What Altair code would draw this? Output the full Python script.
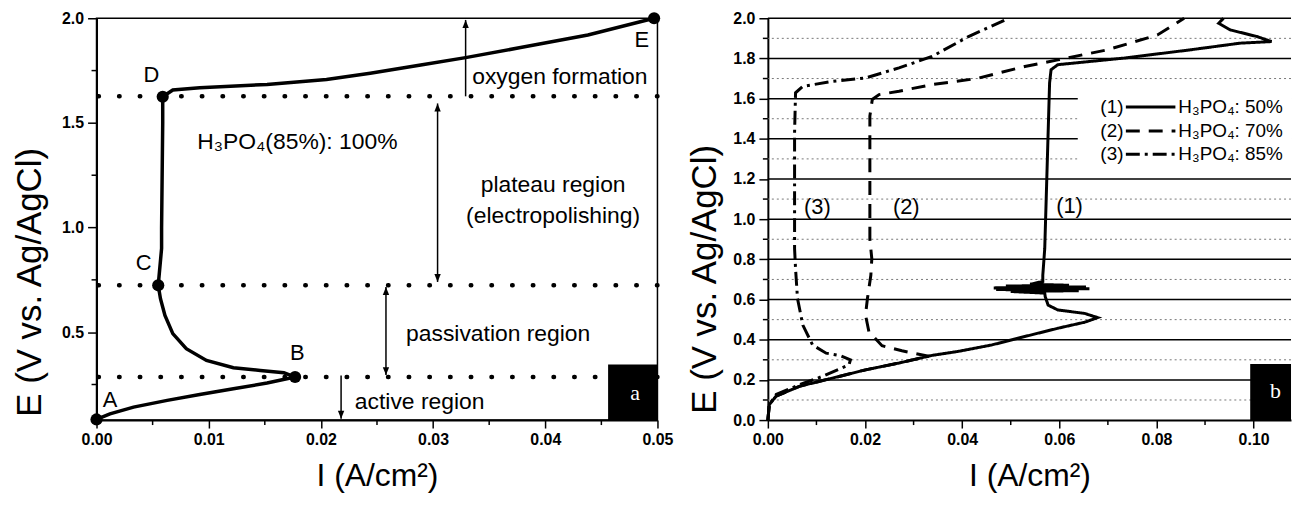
import altair as alt
import pandas as pd

FONT = "Liberation Sans"

# ---------------- Panel (a): H3PO4 85% polarization curve ----------------
a_I = [0.0000, 0.0012, 0.0033, 0.0063, 0.0092, 0.0122, 0.0152, 0.0177,
       0.0167, 0.0146, 0.0122, 0.0098, 0.0080, 0.0068, 0.0061, 0.0057, 0.0055,
       0.0058, 0.0058, 0.0059, 0.0059,
       0.0068, 0.0092, 0.0152, 0.0205, 0.0244, 0.0289, 0.0329, 0.0378, 0.0438, 0.0497]
a_E = [0.083, 0.110, 0.142, 0.174, 0.202, 0.230, 0.257, 0.286,
       0.306, 0.317, 0.330, 0.365, 0.421, 0.493, 0.580, 0.660, 0.724,
       0.900, 1.000, 1.500, 1.625,
       1.657, 1.668, 1.684, 1.707, 1.737, 1.777, 1.812, 1.860, 1.920, 2.000]

a_pt_name = ["A", "B", "C", "D", "E"]
a_pt_I = [0.0000, 0.0177, 0.0055, 0.0059, 0.0497]
a_pt_E = [0.083, 0.286, 0.724, 1.625, 2.000]
a_lab_I = [0.0012, 0.0179, 0.0042, 0.0049, 0.0486]
a_lab_E = [0.178, 0.402, 0.832, 1.729, 1.895]

a_levels = [0.286, 0.724, 1.627]

arr_I = [0.0329, 0.0304, 0.0258, 0.0218]
arr_lo = [1.627, 0.740, 0.295, 0.086]
arr_hi = [1.992, 1.593, 0.716, 0.293]
arr_up = [True, True, True, False]
arr_down = [False, True, True, True]

ann_text = ["H₃PO₄(85%): 100%", "oxygen formation", "plateau region",
            "(electropolishing)", "passivation region", "active region"]
ann_I = [0.0179, 0.0413, 0.0407, 0.0407, 0.0358, 0.0288]
ann_E = [1.407, 1.720, 1.202, 1.053, 0.493, 0.166]

a_xticks = [0.00, 0.01, 0.02, 0.03, 0.04, 0.05]
a_xminor = [0.005, 0.015, 0.025, 0.035, 0.045]
a_yticks = [0.5, 1.0, 1.5, 2.0]
a_yminor = [0.25, 0.75, 1.25, 1.75]

# ---------------- Panel (b): three H3PO4 concentrations ----------------
series_names = ["(1) 50%", "(2) 70%", "(3) 85%"]
c1_I = [0.0000, 0.0003, 0.0017, 0.0065, 0.0133, 0.0201, 0.0270, 0.0338, 0.0392, 0.0433,
        0.0461, 0.0529, 0.0597, 0.0652, 0.0679, 0.0652, 0.0597, 0.0577, 0.0571,
        0.0570, 0.0500, 0.0640, 0.0470, 0.0662, 0.0465, 0.0655, 0.0490, 0.0620, 0.0540, 0.0566,
        0.0566, 0.0570, 0.0573, 0.0577, 0.0580, 0.0583, 0.0597, 0.0734, 0.0870, 0.0972,
        0.1037, 0.1007, 0.0952, 0.0928, 0.0938]
c1_E = [0.000, 0.077, 0.119, 0.168, 0.209, 0.250, 0.284, 0.322, 0.342, 0.361,
        0.374, 0.416, 0.457, 0.487, 0.510, 0.531, 0.548, 0.572, 0.614,
        0.632, 0.640, 0.644, 0.650, 0.654, 0.658, 0.662, 0.667, 0.671, 0.676, 0.690,
        0.721, 0.853, 1.100, 1.431, 1.678, 1.744, 1.769, 1.802, 1.843, 1.876,
        1.884, 1.909, 1.942, 1.975, 2.000]
c2_I = [0.0000, 0.0003, 0.0017, 0.0065, 0.0133, 0.0201, 0.0270, 0.0331, 0.0276, 0.0235,
        0.0208, 0.0201, 0.0205, 0.0212, 0.0214, 0.0210, 0.0210, 0.0210, 0.0215, 0.0229,
        0.0270, 0.0338, 0.0430, 0.0529, 0.0597, 0.0699, 0.0802, 0.0857]
c2_E = [0.000, 0.077, 0.119, 0.168, 0.209, 0.250, 0.284, 0.318, 0.345, 0.370,
        0.440, 0.523, 0.605, 0.721, 0.803, 0.900, 1.265, 1.513, 1.596, 1.620,
        1.637, 1.670, 1.700, 1.760, 1.793, 1.843, 1.917, 2.000]
c3_I = [0.0000, 0.0003, 0.0017, 0.0065, 0.0113, 0.0167, 0.0170, 0.0150, 0.0120, 0.0092,
        0.0072, 0.0061, 0.0057, 0.0055, 0.0055, 0.0055, 0.0057, 0.0072, 0.0133, 0.0201,
        0.0270, 0.0338, 0.0413, 0.0481, 0.0495]
c3_E = [0.000, 0.077, 0.127, 0.176, 0.218, 0.275, 0.300, 0.320, 0.333, 0.374,
        0.473, 0.605, 0.754, 0.853, 0.936, 1.431, 1.629, 1.661, 1.686, 1.703,
        1.753, 1.810, 1.909, 1.983, 2.000]

leg_num = ["(1)", "(2)", "(3)"]
leg_text = ["H₃PO₄: 50%", "H₃PO₄: 70%", "H₃PO₄: 85%"]
leg_E = [1.558, 1.439, 1.323]
leg_num_I = 0.0732
leg_line_I = [0.0737, 0.0839]
leg_text_I = 0.0845
leg_box_I = [0.0638, 0.1077]
leg_box_E = [1.212, 1.618]

curve_lab = ["(1)", "(2)", "(3)"]
curve_lab_I = [0.0621, 0.0285, 0.0102]
curve_lab_E = [1.067, 1.060, 1.060]

b_xticks = [0.00, 0.02, 0.04, 0.06, 0.08, 0.10]
b_xminor = [0.01, 0.03, 0.05, 0.07, 0.09]
b_yticks = [0.0, 0.2, 0.4, 0.6, 0.8, 1.0, 1.2, 1.4, 1.6, 1.8, 2.0]
b_yminor = [0.1, 0.3, 0.5, 0.7, 0.9, 1.1, 1.3, 1.5, 1.7, 1.9]

# ---------------- shared styling ----------------
W1, W2, H = 564, 526, 404


def xaxis(vals):
    return alt.Axis(values=vals, format=".2f", title="I (A/cm²)", grid=False,
                    tickSize=8, tickWidth=1.5, tickColor="black",
                    domainColor="black", domainWidth=2,
                    labelFont=FONT, labelFontSize=16, labelFontWeight="bold",
                    labelColor="black", labelPadding=4, labelFlush=False,
                    titleFont=FONT, titleFontSize=32, titleFontWeight="normal",
                    titleColor="black", titleY=66, titleBaseline="alphabetic")


def yaxis(vals, tx, ty):
    return alt.Axis(values=vals, format=".1f", title="E (V vs. Ag/AgCl)", grid=False,
                    tickSize=9, tickWidth=1.5, tickColor="black",
                    domainColor="black", domainWidth=2,
                    labelFont=FONT, labelFontSize=16, labelFontWeight="bold",
                    labelColor="black", labelPadding=4, labelFlush=False,
                    titleFont=FONT, titleFontSize=35, titleFontWeight="normal",
                    titleColor="black", titleX=tx, titleY=ty,
                    titleBaseline="alphabetic", titleAlign="center")


sxa = alt.Scale(domain=[0, 0.05], nice=False, zero=False)
sya = alt.Scale(domain=[0.08, 2.0], nice=False, zero=False)
sxb = alt.Scale(domain=[0, 0.1077], nice=False, zero=False)
syb = alt.Scale(domain=[0, 2.0], nice=False, zero=False)

axa_x = xaxis(a_xticks)
axa_y = yaxis(a_yticks, -56, 265)
axb_x = xaxis(b_xticks)
axb_y = yaxis(b_yticks, -53, 262)


def XA(f):
    return alt.X(f, type="quantitative", scale=sxa, axis=axa_x)


def YA(f):
    return alt.Y(f, type="quantitative", scale=sya, axis=axa_y)


def XB(f):
    return alt.X(f, type="quantitative", scale=sxb, axis=axb_x)


def YB(f):
    return alt.Y(f, type="quantitative", scale=syb, axis=axb_y)


# ---------------- Panel (a) layers ----------------
df_a = pd.DataFrame({"I": a_I, "E": a_E, "k": range(len(a_I))})
df_pts = pd.DataFrame({"I": a_pt_I, "E": a_pt_E})
df_lab = pd.DataFrame({"I": a_lab_I, "E": a_lab_E, "t": a_pt_name})
df_lev = pd.DataFrame({"E": a_levels})
df_arr = pd.DataFrame({"I": arr_I, "lo": arr_lo, "hi": arr_hi, "up": arr_up, "down": arr_down})
df_ann = pd.DataFrame({"I": ann_I, "E": ann_E, "t": ann_text})
df_axm = pd.DataFrame({"I": a_xminor})
df_aym = pd.DataFrame({"E": a_yminor})

UP = "M0,0L-0.4,1L0.4,1Z"
DOWN = "M0,0L-0.4,-1L0.4,-1Z"

levels = alt.Chart(df_lev).mark_rule(color="black", strokeWidth=4.5, strokeDash=[0.5, 20.3],
                                     strokeCap="round").encode(y=YA("E"))
curve_a = alt.Chart(df_a).mark_line(color="black", strokeWidth=3.5).encode(
    x=XA("I"), y=YA("E"), order="k:Q")
pts_a = alt.Chart(df_pts).mark_circle(color="black", size=150, opacity=1).encode(x=XA("I"), y=YA("E"))
lab_a = alt.Chart(df_lab).mark_text(font=FONT, fontSize=22, color="black").encode(
    x=XA("I"), y=YA("E"), text="t:N")
arr_lines = alt.Chart(df_arr).mark_rule(color="black", strokeWidth=1.5).encode(
    x=XA("I"), y=YA("lo"), y2="hi:Q")
arr_up_m = alt.Chart(df_arr).transform_filter("datum.up").mark_point(
    shape=UP, filled=True, color="black", size=256, opacity=1).encode(x=XA("I"), y=YA("hi"))
arr_dn_m = alt.Chart(df_arr).transform_filter("datum.down").mark_point(
    shape=DOWN, filled=True, color="black", size=256, opacity=1).encode(x=XA("I"), y=YA("lo"))
ann_a = alt.Chart(df_ann).mark_text(font=FONT, fontSize=23, color="black").encode(
    x=XA("I"), y=YA("E"), text="t:N")
box_a = alt.Chart(pd.DataFrame({"x1": [0.0456], "x2": [0.05], "y1": [0.08], "y2": [0.346]})).mark_rect(
    color="black").encode(x=XA("x1"), x2="x2:Q", y=YA("y1"), y2="y2:Q")
box_a_t = alt.Chart(pd.DataFrame({"I": [0.0480], "E": [0.21], "t": ["a"]})).mark_text(
    font="Liberation Serif", fontSize=22, color="white").encode(x=XA("I"), y=YA("E"), text="t:N")
xm_a = alt.Chart(df_axm).mark_rule(color="black", strokeWidth=1.5).encode(
    x=XA("I"), y=alt.value(H), y2=alt.value(H + 5))
ym_a = alt.Chart(df_aym).mark_rule(color="black", strokeWidth=1.5).encode(
    y=YA("E"), x=alt.value(0), x2=alt.value(-5))

left = alt.layer(levels, curve_a, pts_a, lab_a, arr_lines, arr_up_m, arr_dn_m, ann_a,
                 box_a, box_a_t, xm_a, ym_a).properties(
    width=W1, height=H, view=alt.ViewBackground(stroke="black", strokeWidth=1.5))

# ---------------- Panel (b) layers ----------------
rows = []
for name, I_, E_ in zip(series_names, [c1_I, c2_I, c3_I], [c1_E, c2_E, c3_E]):
    for k, (i, e) in enumerate(zip(I_, E_)):
        rows.append({"s": name, "I": i, "E": e, "k": k})
df_b = pd.DataFrame(rows)

dash = alt.StrokeDash("s:N", scale=alt.Scale(domain=series_names,
                                             range=[[1, 0], [14, 9], [14, 5, 3, 5]]), legend=None)

df_gmaj = pd.DataFrame({"E": b_yticks[1:]})
df_gmin = pd.DataFrame({"E": b_yminor})
g_min = alt.Chart(df_gmin).mark_rule(color="#777777", strokeWidth=1, strokeDash=[2, 3]).encode(y=YB("E"))
g_maj = alt.Chart(df_gmaj).mark_rule(color="black", strokeWidth=1.5).encode(y=YB("E"))
leg_box = alt.Chart(pd.DataFrame({"x1": [leg_box_I[0]], "x2": [leg_box_I[1]],
                                  "y1": [leg_box_E[0]], "y2": [leg_box_E[1]]})).mark_rect(
    color="white").encode(x=XB("x1"), x2="x2:Q", y=YB("y1"), y2="y2:Q")
curves_b = alt.Chart(df_b).mark_line(color="black", strokeWidth=3).encode(
    x=XB("I"), y=YB("E"), detail="s:N", order="k:Q", strokeDash=dash)

df_leg = pd.DataFrame({"s": series_names, "E": leg_E, "num": leg_num, "t": leg_text,
                       "x1": [leg_line_I[0]] * 3, "x2": [leg_line_I[1]] * 3,
                       "xn": [leg_num_I] * 3, "xt": [leg_text_I] * 3})
leg_lines = alt.Chart(df_leg).mark_rule(color="black", strokeWidth=3).encode(
    x=XB("x1"), x2="x2:Q", y=YB("E"), strokeDash=dash)
leg_num_m = alt.Chart(df_leg).mark_text(font=FONT, fontSize=19, color="black", align="right").encode(
    x=XB("xn"), y=YB("E"), text="num:N")
leg_txt_m = alt.Chart(df_leg).mark_text(font=FONT, fontSize=19, color="black", align="left").encode(
    x=XB("xt"), y=YB("E"), text="t:N")
df_cl = pd.DataFrame({"I": curve_lab_I, "E": curve_lab_E, "t": curve_lab})
clab = alt.Chart(df_cl).mark_text(font=FONT, fontSize=22, color="black").encode(
    x=XB("I"), y=YB("E"), text="t:N")
box_b = alt.Chart(pd.DataFrame({"x1": [0.0993], "x2": [0.1077], "y1": [0.0], "y2": [0.279]})).mark_rect(
    color="black").encode(x=XB("x1"), x2="x2:Q", y=YB("y1"), y2="y2:Q")
box_b_t = alt.Chart(pd.DataFrame({"I": [0.1045], "E": [0.144], "t": ["b"]})).mark_text(
    font="Liberation Serif", fontSize=22, color="white").encode(x=XB("I"), y=YB("E"), text="t:N")
xm_b = alt.Chart(pd.DataFrame({"I": b_xminor})).mark_rule(color="black", strokeWidth=1.5).encode(
    x=XB("I"), y=alt.value(H), y2=alt.value(H + 5))
ym_b = alt.Chart(pd.DataFrame({"E": b_yminor})).mark_rule(color="black", strokeWidth=1.5).encode(
    y=YB("E"), x=alt.value(0), x2=alt.value(-5))

right = alt.layer(g_min, g_maj, leg_box, curves_b, leg_lines, leg_num_m, leg_txt_m, clab,
                  box_b, box_b_t, xm_b, ym_b).properties(
    width=W2, height=H, view=alt.ViewBackground(stroke="transparent"))

chart = alt.hconcat(left, right, spacing=12).properties(
    padding={"left": 4, "top": 0, "right": 0, "bottom": 0},
    background="white",
).configure_view(stroke="transparent")

chart.save("out.html", embed_options={"renderer": "svg", "actions": False})
